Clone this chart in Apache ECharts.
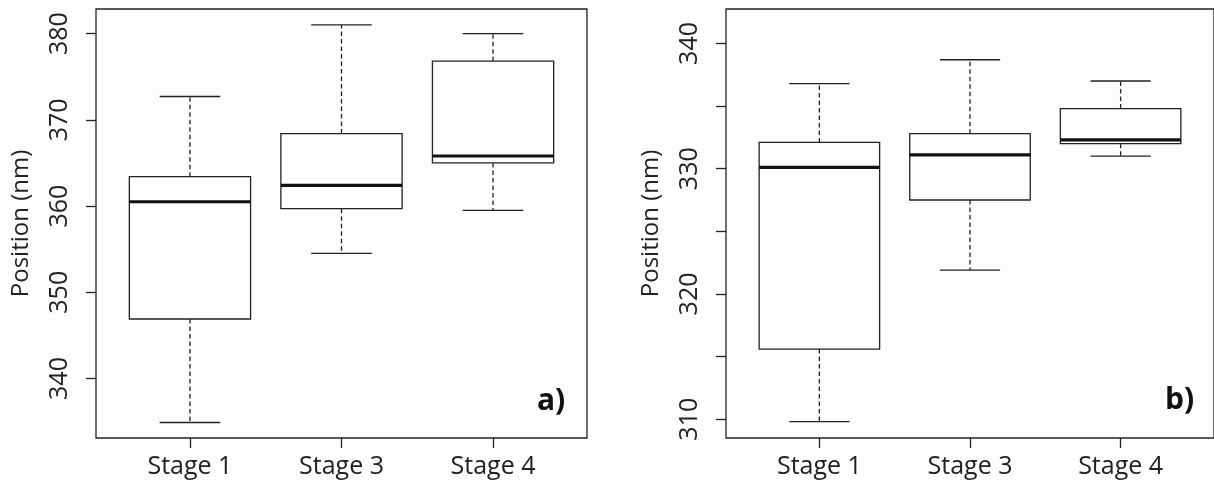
<!DOCTYPE html>
<html>
<head>
<meta charset="utf-8">
<script src="https://cdn.jsdelivr.net/npm/echarts@6/dist/echarts.min.js"></script>
<style>
html,body{margin:0;padding:0;background:#fdfdfd;}
#chart{width:1214px;height:488px;}
</style>
</head>
<body>
<div id="chart"></div>
<script>
// ---- data ----
const categories = ['Stage 1', 'Stage 3', 'Stage 4'];

// panel a)
const aMin    = [334.9, 354.5, 359.5];
const aQ1     = [346.9, 359.7, 365.0];
const aMedian = [360.5, 362.4, 365.8];
const aQ3     = [363.4, 368.4, 376.8];
const aMax    = [372.7, 381.0, 380.0];
const aTicks  = [340, 350, 360, 370, 380];

// panel b)
const bMin    = [309.8, 321.9, 331.0];
const bQ1     = [315.6, 327.5, 332.0];
const bMedian = [330.1, 331.1, 332.3];
const bQ3     = [332.1, 332.8, 334.8];
const bMax    = [336.8, 338.7, 337.0];
const bTicks  = [310, 315, 320, 325, 330, 335, 340];
const bLabels = [310, 320, 330, 340];

const yTitle = 'Position (nm)';
const panelTags = ['a)', 'b)'];

// ---- build ----
function rows(mn, q1, md, q3, mx) {
  return categories.map((c, i) => [i, mn[i], q1[i], md[i], q3[i], mx[i]]);
}

const FONT = 'Open Sans';
const LINE = '#222';

function renderBox(params, api) {
  const x = api.value(0);
  const vMin = api.value(1), vQ1 = api.value(2), vMed = api.value(3), vQ3 = api.value(4), vMax = api.value(5);
  const half = 0.4, cap = 0.2;
  const pMin = api.coord([x, vMin]);
  const pQ1 = api.coord([x, vQ1]);
  const pMed = api.coord([x, vMed]);
  const pQ3 = api.coord([x, vQ3]);
  const pMax = api.coord([x, vMax]);
  const xl = api.coord([x - half, vQ1])[0];
  const xr = api.coord([x + half, vQ1])[0];
  const cl = api.coord([x - cap, vQ1])[0];
  const cr = api.coord([x + cap, vQ1])[0];
  const thin = {stroke: LINE, lineWidth: 1.3, fill: null};
  const dashed = {stroke: LINE, lineWidth: 1.3, lineDash: [4.5, 3], fill: null};
  return {
    type: 'group',
    children: [
      {type: 'line', shape: {x1: pQ3[0], y1: pQ3[1], x2: pMax[0], y2: pMax[1]}, style: dashed},
      {type: 'line', shape: {x1: pQ1[0], y1: pQ1[1], x2: pMin[0], y2: pMin[1]}, style: dashed},
      {type: 'line', shape: {x1: cl, y1: pMax[1], x2: cr, y2: pMax[1]}, style: thin},
      {type: 'line', shape: {x1: cl, y1: pMin[1], x2: cr, y2: pMin[1]}, style: thin},
      {type: 'rect', shape: {x: xl, y: pQ3[1], width: xr - xl, height: pQ1[1] - pQ3[1]}, style: {stroke: LINE, lineWidth: 1.3, fill: '#fdfdfd'}},
      {type: 'line', shape: {x1: xl, y1: pMed[1], x2: xr, y2: pMed[1]}, style: {stroke: '#111', lineWidth: 3.2}}
    ]
  };
}

function xAxisFor(gi) {
  return {
    type: 'value', gridIndex: gi, min: -0.62, max: 2.62, position: 'bottom',
    axisLine: {show: false, onZero: false},
    splitLine: {show: false},
    axisTick: {show: true, length: 10, customValues: [0, 1, 2], lineStyle: {color: LINE, width: 1.3}},
    axisLabel: {customValues: [0, 1, 2], formatter: v => categories[Math.round(v)], color: '#222',
      fontFamily: FONT, fontSize: 25, margin: 16}
  };
}
function yAxisFor(gi, mn, mx, ticks, labels) {
  return {
    type: 'value', gridIndex: gi, min: mn, max: mx, position: 'left',
    name: yTitle, nameLocation: 'middle', nameRotate: 90, nameGap: 63,
    nameTextStyle: {fontFamily: FONT, fontSize: 24, color: '#222'},
    axisLine: {show: false, onZero: false},
    splitLine: {show: false},
    axisTick: {show: true, length: 10, customValues: ticks, lineStyle: {color: LINE, width: 1.3}},
    axisLabel: {customValues: labels, rotate: 90, color: '#222', fontFamily: FONT, fontSize: 25, margin: 24}
  };
}

const chart = echarts.init(document.getElementById('chart'), null, {renderer: 'canvas'});
chart.setOption({
  backgroundColor: '#fdfdfd',
  animation: false,
  grid: [
    {left: 96, top: 9, width: 491, height: 429, show: true, borderColor: LINE, borderWidth: 1.3, backgroundColor: 'transparent'},
    {left: 726, top: 9, width: 491, height: 429, show: true, borderColor: LINE, borderWidth: 1.3, backgroundColor: 'transparent'}
  ],
  xAxis: [xAxisFor(0), xAxisFor(1)],
  yAxis: [
    yAxisFor(0, 333.1, 382.85, aTicks, aTicks),
    yAxisFor(1, 308.5, 342.75, bTicks, bLabels)
  ],
  series: [
    {type: 'custom', xAxisIndex: 0, yAxisIndex: 0, renderItem: renderBox,
      encode: {x: 0, y: [1, 2, 3, 4, 5]}, data: rows(aMin, aQ1, aMedian, aQ3, aMax)},
    {type: 'custom', xAxisIndex: 1, yAxisIndex: 1, renderItem: renderBox,
      encode: {x: 0, y: [1, 2, 3, 4, 5]}, data: rows(bMin, bQ1, bMedian, bQ3, bMax)}
  ],
  graphic: [
    {type: 'text', left: 537, top: 386, style: {text: panelTags[0], font: 'bold 30px "Open Sans"', fill: '#111'}},
    {type: 'text', left: 1165, top: 385, style: {text: panelTags[1], font: 'bold 30px "Open Sans"', fill: '#111'}}
  ]
});
</script>
</body>
</html>
